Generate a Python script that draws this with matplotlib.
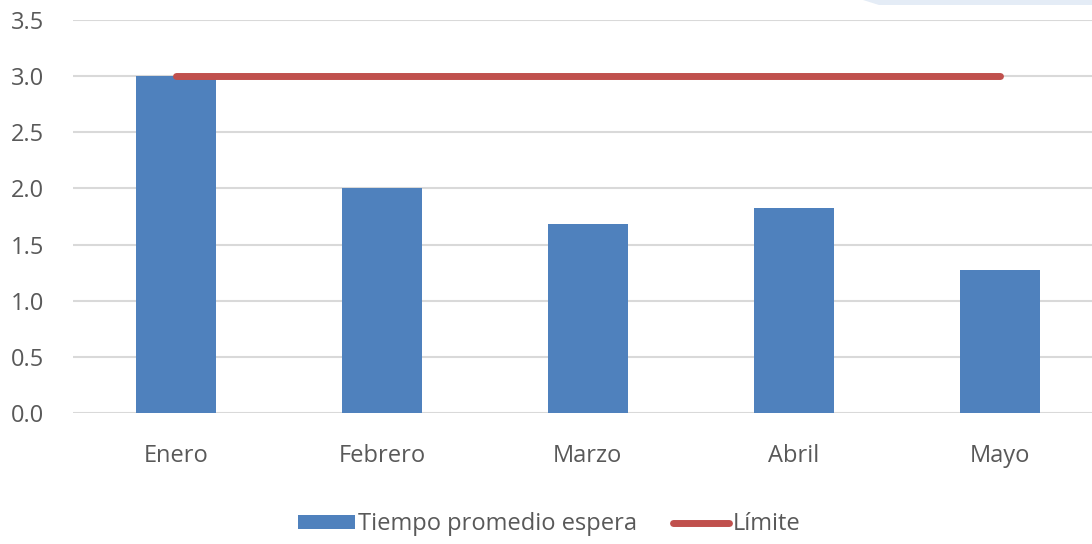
import matplotlib
matplotlib.use("Agg")
import matplotlib.pyplot as plt
from matplotlib.patches import Polygon

months = ["Enero", "Febrero", "Marzo", "Abril", "Mayo"]
tiempo = [3.0, 2.0, 1.68, 1.83, 1.27]
limite = [3.0, 3.0, 3.0, 3.0, 3.0]
yticks = [0.0, 0.5, 1.0, 1.5, 2.0, 2.5, 3.0, 3.5]

plt.rcParams["font.family"] = ["Open Sans", "DejaVu Sans"]

fig = plt.figure(figsize=(10.92, 5.44), dpi=100)
ax = fig.add_axes([0.0668, 0.2408, 0.943, 0.7224])

x = list(range(len(months)))
bars = ax.bar(x, tiempo, width=0.39, color="#4F81BD", label="Tiempo promedio espera", zorder=2)
line, = ax.plot(x, limite, color="#C0504D", linewidth=5, solid_capstyle="round", label="Límite", zorder=3)

ax.set_xlim(-0.5, 4.5)
ax.set_ylim(0, 3.5)
ax.set_yticks(yticks)
ax.set_yticklabels([f"{v:.1f}" for v in yticks])
ax.set_xticks(x)
ax.set_xticklabels(months)
ax.yaxis.grid(True, color="#D9D9D9", linewidth=1.5, zorder=0)
ax.set_axisbelow(True)
for s in ax.spines.values():
    s.set_visible(False)
ax.tick_params(length=0, labelsize=17, colors="#595959")
ax.tick_params(axis="y", pad=45)
ax.tick_params(axis="x", pad=22)
for t in ax.get_yticklabels():
    t.set_horizontalalignment("left")

fig.legend([bars, line], ["Tiempo promedio espera", "Límite"], loc="center",
           bbox_to_anchor=(0.503, 0.036), ncol=2, frameon=False,
           fontsize=17, labelcolor="#595959", handlelength=2.4, handleheight=0.5,
           handletextpad=0.15, columnspacing=1.5)

# light blue shape in the top right corner
fig.patches.append(Polygon([(0.79, 1.0), (1.0, 1.0), (1.0, 0.99), (0.805, 0.99)],
                           closed=True, transform=fig.transFigure,
                           facecolor="#E4ECF6", edgecolor="none"))

fig.savefig("out.png", dpi=100)
